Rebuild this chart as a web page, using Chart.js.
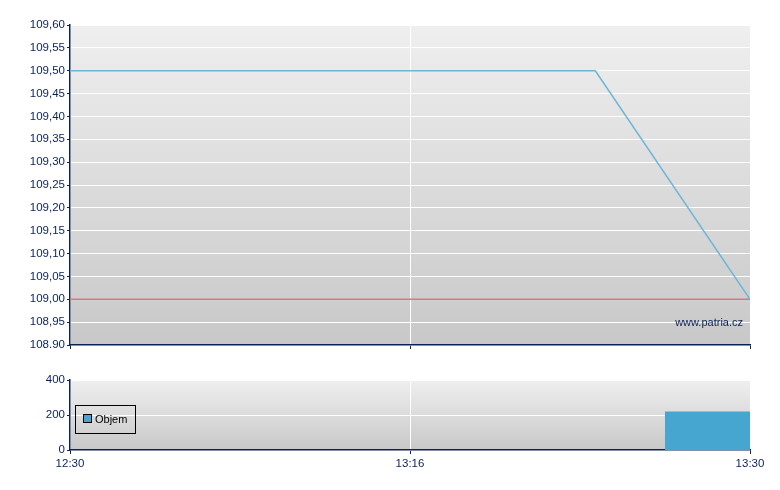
<!DOCTYPE html>
<html>
<head>
<meta charset="utf-8">
<script src="https://cdn.jsdelivr.net/npm/chart.js@4/dist/chart.umd.min.js"></script>
<style>
body { margin: 0; background: #fff; }
#price { position: absolute; left: 0; top: 0; }
#vol { position: absolute; left: 0; top: 360px; }
</style>
</head>
<body>
<canvas id="price" width="780" height="360"></canvas>
<canvas id="vol" width="780" height="130"></canvas>
<script>
// data
var timeLabels = ['12:30', '13:16', '13:30'];
var priceX = [0, 1.545, 2];
var priceY = [109.50, 109.50, 109.00];
var prevClose = 109.00;
var priceTicks = ['108.90', '108,95', '109,00', '109,05', '109,10', '109,15', '109,20', '109,25',
	'109,30', '109,35', '109,40', '109,45', '109,50', '109,55', '109,60'];
var volX = [1.75, 2];
var volY = [220, 220];

var navy = '#0b2256';
var tickFont = { family: 'Liberation Sans, Arial, sans-serif', size: 11.5 };

// gradient behind plot area
var bgPlugin = {
	id: 'bg',
	beforeDraw: function(chart) {
		var a = chart.chartArea, c = chart.ctx;
		var g = c.createLinearGradient(0, a.top, 0, a.bottom);
		g.addColorStop(0, '#efefef');
		g.addColorStop(1, '#c8c8c8');
		c.save();
		c.fillStyle = g;
		c.fillRect(a.left, a.top, a.right - a.left, a.bottom - a.top);
		c.restore();
	}
};

var watermark = {
	id: 'watermark',
	afterDraw: function(chart) {
		var a = chart.chartArea, c = chart.ctx;
		c.save();
		c.font = '11px Liberation Sans, Arial, sans-serif';
		c.fillStyle = navy;
		c.textAlign = 'right';
		c.textBaseline = 'middle';
		c.fillText('www.patria.cz', a.right - 7, a.bottom - 22);
		c.restore();
	}
};

var legendBox = {
	id: 'legendBox',
	afterDatasetsDraw: function(chart) {
		var a = chart.chartArea, c = chart.ctx;
		var x = a.left + 5, y = a.top + 25;
		c.save();
		c.strokeStyle = '#000';
		c.lineWidth = 1;
		c.strokeRect(x + 0.5, y + 0.5, 60, 28);
		c.fillStyle = '#46a6cf';
		c.fillRect(x + 8.5, y + 9.5, 8, 8);
		c.strokeRect(x + 8.5, y + 9.5, 8, 8);
		c.font = '11px Liberation Sans, Arial, sans-serif';
		c.fillStyle = '#000';
		c.textBaseline = 'middle';
		c.fillText(chart.data.datasets[0].label, x + 20, y + 15);
		c.restore();
	}
};

var ctx = document.getElementById('price');
var priceChart = new Chart(ctx, {
	type: 'line',
	data: {
		datasets: [{
			label: 'Cena',
			data: priceX.map(function(x, i) { return { x: x, y: priceY[i] }; }),
			borderColor: '#6cb6d6',
			borderWidth: 1.5,
			pointRadius: 0
		}, {
			label: 'Předchozí',
			data: [{ x: 0, y: prevClose }, { x: 2, y: prevClose }],
			borderColor: '#d97a7a',
			borderWidth: 1.5,
			pointRadius: 0
		}]
	},
	plugins: [bgPlugin, watermark],
	options: {
		responsive: false,
		animation: false,
		devicePixelRatio: 1,
		layout: { padding: { top: 25, right: 30, left: 0, bottom: 0 } },
		plugins: { legend: { display: false }, tooltip: { enabled: false } },
		scales: {
			x: {
				type: 'linear', min: 0, max: 2,
				ticks: { stepSize: 1, display: false },
				grid: { color: '#ffffff', tickColor: navy, tickLength: 4 },
				border: { color: navy, width: 1.5 },
				afterFit: function(s) { s.height = 15; }
			},
			y: {
				min: 108.9, max: 109.6,
				ticks: {
					stepSize: 0.05, color: navy, font: tickFont, padding: 2,
					callback: function(v, i) { return priceTicks[i]; }
				},
				grid: { color: '#ffffff', tickColor: navy, tickLength: 3 },
				border: { color: navy, width: 1.5 },
				afterFit: function(s) { s.width = 70; }
			}
		}
	}
});

var ctx = document.getElementById('vol');
var volChart = new Chart(ctx, {
	type: 'line',
	data: {
		datasets: [{
			label: 'Objem',
			data: volX.map(function(x, i) { return { x: x, y: volY[i] }; }),
			borderColor: '#46a6cf',
			backgroundColor: '#46a6cf',
			borderWidth: 0,
			pointRadius: 0,
			fill: 'origin'
		}]
	},
	plugins: [bgPlugin, legendBox],
	options: {
		responsive: false,
		animation: false,
		devicePixelRatio: 1,
		layout: { padding: { top: 20, right: 30, left: 0, bottom: 0 } },
		plugins: { legend: { display: false }, tooltip: { enabled: false } },
		scales: {
			x: {
				type: 'linear', min: 0, max: 2,
				ticks: {
					stepSize: 1, color: navy, font: tickFont, maxRotation: 0, padding: 3,
					callback: function(v, i) { return timeLabels[i]; }
				},
				grid: { color: '#ffffff', tickColor: navy, tickLength: 4 },
				border: { color: navy, width: 1.5 },
				afterFit: function(s) { s.height = 40; }
			},
			y: {
				min: 0, max: 400,
				ticks: { stepSize: 200, color: navy, font: tickFont, padding: 2 },
				grid: { color: '#ffffff', tickColor: navy, tickLength: 3 },
				border: { color: navy, width: 1.5 },
				afterFit: function(s) { s.width = 70; }
			}
		}
	}
});
</script>
</body>
</html>
